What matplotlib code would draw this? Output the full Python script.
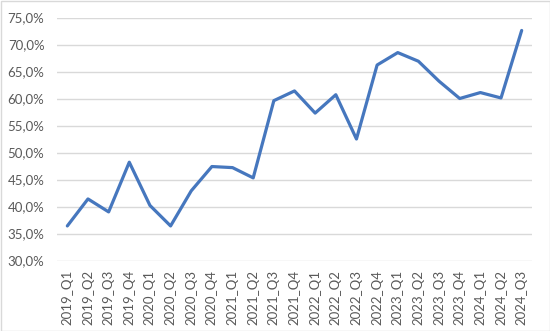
import matplotlib
matplotlib.use("Agg")
import matplotlib.pyplot as plt
from matplotlib.patches import Rectangle
from matplotlib.ticker import FuncFormatter

categories = ["2019_Q1", "2019_Q2", "2019_Q3", "2019_Q4",
              "2020_Q1", "2020_Q2", "2020_Q3", "2020_Q4",
              "2021_Q1", "2021_Q2", "2021_Q3", "2021_Q4",
              "2022_Q1", "2022_Q2", "2022_Q3", "2022_Q4",
              "2023_Q1", "2023_Q2", "2023_Q3", "2023_Q4",
              "2024_Q1", "2024_Q2", "2024_Q3"]
values = [36.4, 41.4, 39.0, 48.2,
          40.2, 36.4, 42.9, 47.4,
          47.2, 45.3, 59.6, 61.4,
          57.3, 60.7, 52.5, 66.2,
          68.5, 66.9, 63.2, 60.0,
          61.1, 60.1, 72.6]
y_ticks = [30, 35, 40, 45, 50, 55, 60, 65, 70, 75]

plt.rcParams['font.family'] = ['Lato', 'DejaVu Sans']

fig = plt.figure(figsize=(5.5, 3.31), dpi=100)
fig.patch.set_facecolor("white")
ax = fig.add_axes([57/550, 1 - 260.5/331, 475/550, 243/331])

ax.plot(range(len(categories)), values, color="#4677BE", lw=2.3,
        solid_joinstyle="round", solid_capstyle="round", zorder=3)

ax.set_xlim(-0.5, len(categories) - 0.5)
ax.set_ylim(30, 75)
ax.set_yticks(y_ticks)
ax.yaxis.set_major_formatter(FuncFormatter(lambda v, p: f"{v:.1f}%".replace(".", ",")))
ax.set_xticks(range(len(categories)))
ax.set_xticklabels(categories, rotation=90)

ax.grid(axis="y", color="#D9D9D9", lw=1)
ax.set_axisbelow(True)
for s in ["top", "right", "left", "bottom"]:
    ax.spines[s].set_visible(False)
ax.tick_params(axis="both", length=0, colors="#595959", labelsize=9.5)
ax.tick_params(axis="y", pad=9)
ax.tick_params(axis="x", pad=7)

fig.add_artist(Rectangle((0.5/550, 0.5/331), 549/550, 330/331, transform=fig.transFigure,
                         fill=False, edgecolor="#D9D9D9", lw=1))

fig.savefig("out.png", dpi=100)
